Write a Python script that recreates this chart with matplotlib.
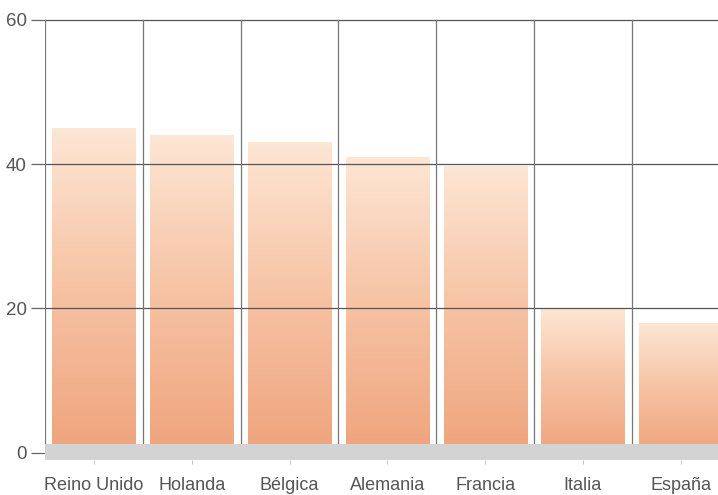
import numpy as np
import matplotlib.pyplot as plt
from matplotlib.colors import LinearSegmentedColormap

paises = ["Reino Unido", "Holanda", "Bélgica", "Alemania", "Francia", "Italia", "España"]
valores = [45, 44, 43, 41, 39.7, 20, 18]
y_ticks = [0, 20, 40, 60]

plt.rcParams['font.family'] = ['Liberation Sans', 'DejaVu Sans']

fig = plt.figure(figsize=(7.18, 4.95), dpi=100)
# axes run slightly past the right edge so the last column is cut off
ax = fig.add_axes([45 / 718, 35 / 495, 7 * 97.8 / 718, 433 / 495 * 64.6 / 60])

grad = LinearSegmentedColormap.from_list("melocoton", ["#efa47d", "#f6c2a3", "#fde6d4"])
ancho = 0.85
for i, v in enumerate(valores):
    g = np.linspace(0, 1, 256).reshape(-1, 1)
    ax.imshow(g, cmap=grad, origin="lower", aspect="auto",
              extent=[i - ancho / 2, i + ancho / 2, 0, v], zorder=1)

# floor band
ax.axhspan(-1.0, 1.25, color="#d3d3d3", zorder=3, lw=0)

ax.set_xlim(-0.5, 6.5)
ax.set_ylim(-1.0, 63.6)

# grid: horizontal lines and column separators
for y in y_ticks[1:]:
    ax.axhline(y, color="#555555", lw=0.9, zorder=2)
for x in np.arange(0.5, 6.5, 1):
    ax.plot([x, x], [1.25, 60], color="#777777", lw=0.9, zorder=2)
ax.plot([-0.5, -0.5], [1.25, 60], color="#777777", lw=0.9, zorder=2)

for s in ax.spines.values():
    s.set_visible(False)

ax.set_yticks(y_ticks)
ax.set_yticklabels([str(t) for t in y_ticks])
ax.tick_params(axis="y", length=10, width=0.9, color="#666666", pad=3,
               labelsize=13.5, labelcolor="#555555")
ax.set_xticks(range(len(paises)))
ax.set_xticklabels(paises)
ax.tick_params(axis="x", length=3, width=0.6, color="#bbbbbb", pad=9,
               labelsize=13, labelcolor="#555555")

fig.savefig("out.png", dpi=100)
